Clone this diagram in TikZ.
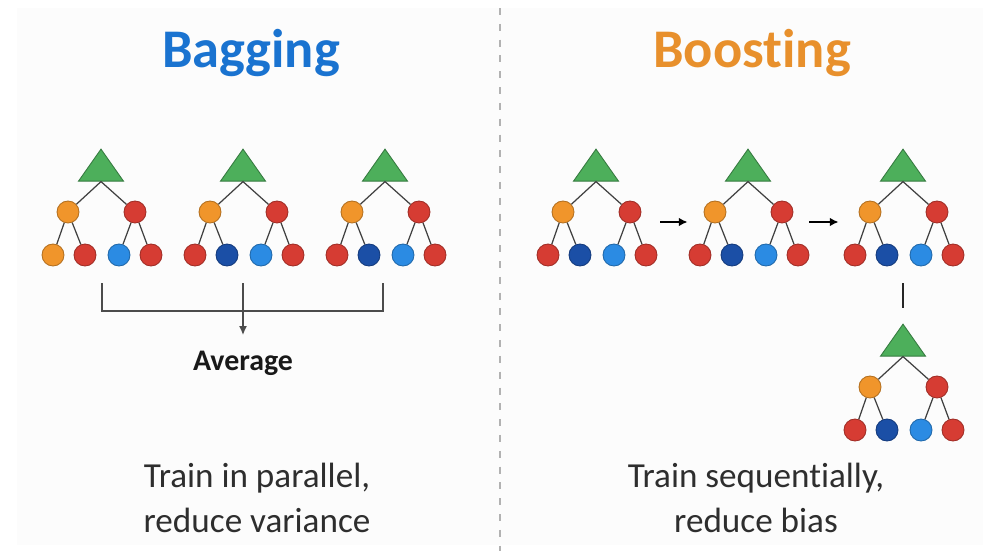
\documentclass[tikz,border=0pt]{standalone}
\usepackage{fontspec}
\setmainfont{Carlito}[Ligatures={NoCommon}]
\usetikzlibrary{shapes.geometric,arrows.meta}

\definecolor{bagblue}{HTML}{1A73D0}
\definecolor{boostorange}{HTML}{E8902C}
\definecolor{treegreen}{HTML}{4DAF5B}
\definecolor{fruit}{HTML}{F0952B}
\definecolor{berry}{HTML}{D63C33}
\definecolor{sky}{HTML}{2B8BE3}
\definecolor{navy}{HTML}{1B4FA6}
\definecolor{ink}{HTML}{2E2E2E}

\tikzset{
  root/.style={isosceles triangle, isosceles triangle stretches, shape border rotate=90,
    minimum width=0.9cm, minimum height=0.64cm, inner sep=0,
    fill=treegreen, draw=treegreen!70!black, line width=0.5pt},
  ball/.style={circle, minimum size=0.44cm, inner sep=0, fill=#1, draw=#1!75!black, line width=0.5pt},
  branch/.style={draw=black!75, line width=0.7pt},
  collect/.style={draw=black!70, line width=0.8pt},
  seq/.style={draw=black, line width=1pt, -{Latex[length=5pt,width=5pt]}},
  title/.style={font=\bfseries\fontsize{31}{36}\selectfont, anchor=base},
  caption/.style={font=\fontsize{20}{26}\selectfont, text=ink, align=center}
}

\begin{document}
\begin{tikzpicture}[x=0.02cm,y=-0.02cm]
  \useasboundingbox (0,0) rectangle (988,551);
  \fill[white] (0,0) rectangle (988,551);
  \fill[black!1] (17,8) rectangle (983,545); % panel
  \draw[black!30, line width=0.8pt, dash pattern=on 4pt off 5pt] (500,8) -- (500,551); % divider

  \node[title, text=bagblue] (bag) at (251,68) {Bagging};
  \node[title, text=boostorange] (boost) at (752,68) {Boosting};

  % one small tree: root, two splits, four leaves
  \foreach \t/\ax/\ay/\fa/\fb in {t1/101/148/fruit/berry, t2/243/148/berry/navy, t3/385/148/berry/navy,
      t4/596/148/berry/navy, t5/748/148/berry/navy, t6/903/148/berry/navy, t7/903/323/berry/navy} {
    \node[root, anchor=apex] (\t) at (\ax,\ay) {};
    \node[ball=fruit] (\t-l) at (\ax-33,\ay+64) {};
    \node[ball=berry] (\t-r) at (\ax+34,\ay+64) {};
    \node[ball=\fa] (\t-ll) at (\ax-48,\ay+107) {};
    \node[ball=\fb] (\t-lr) at (\ax-16,\ay+107) {};
    \node[ball=sky] (\t-rl) at (\ax+18,\ay+107) {};
    \node[ball=berry] (\t-rr) at (\ax+50,\ay+107) {};
    \draw[branch] (\t.lower side) -- (\t-l);
    \draw[branch] (\t.lower side) -- (\t-r);
    \draw[branch] (\t-l) -- (\t-ll);
    \draw[branch] (\t-l) -- (\t-lr);
    \draw[branch] (\t-r) -- (\t-rl);
    \draw[branch] (\t-r) -- (\t-rr);
  }

  % bagging: collect and average
  \coordinate (b1) at (102,283);
  \coordinate (b2) at (243,283);
  \coordinate (b3) at (383,283);
  \coordinate (bar) at (243,311);
  \draw[collect] (b1) |- (bar) -| (b3); % bracket
  \node[font=\bfseries\fontsize{17}{20}\selectfont, text=black!90, anchor=north, inner ysep=9pt] (avg) at (243,335) {Average};
  \draw[collect, -{Latex[length=5pt,width=4.5pt]}] (b2) -- (avg); % average

  % boosting: one tree after another
  \draw[seq, shorten <=0.38cm, shorten >=0.32cm] ([yshift=-0.2cm]t4-r.east) -- ([yshift=-0.2cm]t5-l.west);
  \draw[seq, shorten <=0.32cm, shorten >=0.4cm] ([yshift=-0.2cm]t5-r.east) -- ([yshift=-0.2cm]t6-l.west);
  \coordinate (t6-drop) at (903,283);
  \draw[draw=black!85, line width=1.1pt, shorten >=0.3cm] (t6-drop) -- (t7.apex); % next tree

  \node[caption] (bagtext) at (257,498) {Train in parallel,\\reduce variance};
  \node[caption] (boosttext) at (756,498) {Train sequentially,\\reduce bias};
\end{tikzpicture}
\end{document}
